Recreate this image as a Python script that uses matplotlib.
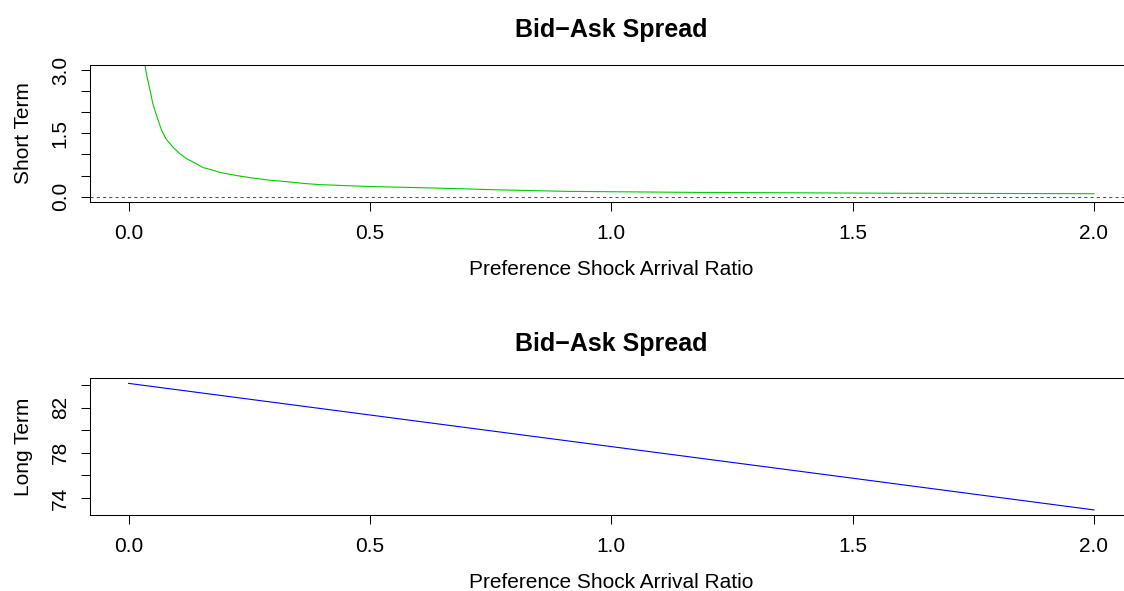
import numpy as np
import matplotlib.pyplot as plt

plt.rcParams['font.family'] = ['Liberation Sans', 'DejaVu Sans']

# short term spread
ratio_short = [0.030, 0.0367, 0.0435, 0.050, 0.0574, 0.068, 0.078, 0.092,
               0.106, 0.12, 0.137, 0.154, 0.171, 0.189, 0.223, 0.258, 0.292,
               0.327, 0.361, 0.396, 0.5, 0.63, 0.77, 0.908, 1.18, 1.4, 1.6,
               1.8, 2.0]
spread_short = [3.4, 2.92, 2.57, 2.21, 1.94, 1.58, 1.36, 1.17,
                1.02, 0.90, 0.80, 0.69, 0.64, 0.575, 0.50, 0.44, 0.39,
                0.355, 0.315, 0.284, 0.24, 0.205, 0.16, 0.125, 0.10, 0.09,
                0.08, 0.075, 0.07]

# long term spread
ratio_long = [0.0, 0.5, 1.0, 1.5, 2.0]
spread_long = [84.15, 81.35, 78.55, 75.75, 72.94]

title = 'Bid\u2212Ask Spread'
xlab = 'Preference Shock Arrival Ratio'
xticks = [0.0, 0.5, 1.0, 1.5, 2.0]
xticklabels = ['0.0', '0.5', '1.0', '1.5', '2.0']

fig = plt.figure(figsize=(11.24, 5.91), dpi=100)
W, H = 1124, 591
left = 90 / W
width = (1132.6 - 90) / W
ax1 = fig.add_axes([left, 1 - 201.7 / H, width, (201.7 - 65) / H])
ax2 = fig.add_axes([left, 1 - 515 / H, width, (515 - 378.3) / H])


def style(ax, yticks, ylabels, ylab):
    ax.set_xlim(-0.08, 2.08)
    ax.set_xticks(xticks)
    ax.set_xticklabels(xticklabels)
    ax.set_yticks(yticks)
    ax.set_yticklabels(ylabels, rotation=90, va='center')
    ax.tick_params(direction='out', length=6.5, width=0.75, color='black',
                   labelsize=15)
    ax.tick_params(axis='x', pad=9.5)
    ax.tick_params(axis='y', pad=8)
    for s in ax.spines.values():
        s.set_linewidth(0.75)
    ax.set_title(title, fontsize=18, fontweight='bold', pad=20)
    ax.set_xlabel(xlab, fontsize=15, labelpad=12)
    ax.set_ylabel(ylab, fontsize=15, labelpad=13)


ax1.plot(ratio_short, spread_short, color='#00CD00', lw=0.8)
ax1.axhline(0, color='#555555', lw=0.75, linestyle=(0, (3, 3)))
ax1.set_ylim(-0.12, 3.12)
style(ax1, [0, 0.5, 1, 1.5, 2, 2.5, 3],
      ['0.0', '', '', '1.5', '', '', '3.0'], 'Short Term')

ax2.plot(ratio_long, spread_long, color='blue', lw=0.8)
ax2.set_ylim(72.49, 84.6)
style(ax2, [74, 76, 78, 80, 82, 84],
      ['74', '', '78', '', '82', ''], 'Long Term')

fig.savefig('out.png', dpi=100)
plt.close()
